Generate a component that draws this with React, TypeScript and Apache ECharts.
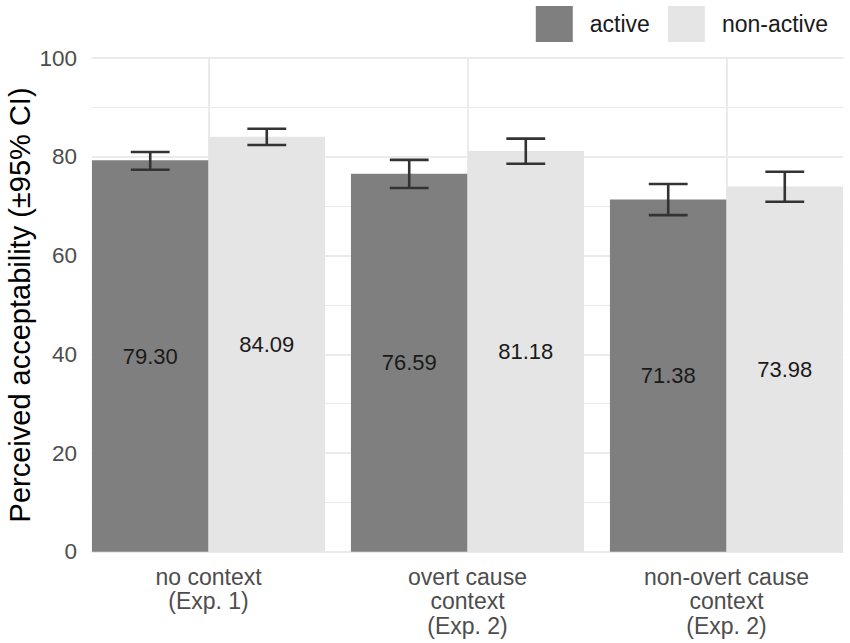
import React, { useEffect, useRef } from "react";
import * as echarts from "echarts";

const categories = [
  "no context\n(Exp. 1)",
  "overt cause\ncontext\n(Exp. 2)",
  "non-overt cause\ncontext\n(Exp. 2)",
];
const seriesNames = ["active", "non-active"];
const activeMeans = [79.3, 76.59, 71.38];
const nonActiveMeans = [84.09, 81.18, 73.98];
const activeLow = [77.4, 73.7, 68.2];
const activeHigh = [81.0, 79.4, 74.5];
const nonActiveLow = [82.4, 78.6, 70.9];
const nonActiveHigh = [85.7, 83.7, 77.0];
const yTicks = [0, 20, 40, 60, 80, 100];

const FONT = "'Liberation Sans', Arial, sans-serif";
const ACTIVE_COLOR = "#7f7f7f";
const NONACTIVE_COLOR = "#e5e5e5";
const GRID_COLOR = "#ebebeb";

function errorSeries(low: number[], high: number[], sign: number) {
  return {
    type: "custom",
    z: 5,
    silent: true,
    encode: { x: 0, y: [1, 2] },
    data: low.map((l, i) => [i, l, high[i]]),
    renderItem: (params: any, api: any) => {
      const ci = api.value(0);
      const lo = api.value(1);
      const hi = api.value(2);
      const band = api.size([1, 0])[0];
      const off = sign * band * 0.225;
      const half = band * 0.075;
      const pLo = api.coord([ci, lo]);
      const pHi = api.coord([ci, hi]);
      const x = pLo[0] + off;
      const style = { stroke: "#333333", lineWidth: 2.6 };
      return {
        type: "group",
        children: [
          { type: "line", shape: { x1: x, y1: pLo[1], x2: x, y2: pHi[1] }, style },
          { type: "line", shape: { x1: x - half, y1: pLo[1], x2: x + half, y2: pLo[1] }, style },
          { type: "line", shape: { x1: x - half, y1: pHi[1], x2: x + half, y2: pHi[1] }, style },
        ],
      };
    },
  };
}

export default function App() {
  const ref = useRef<HTMLDivElement>(null);
  useEffect(() => {
    document.body.style.margin = "0";
    if (!ref.current) return;
    const chart = echarts.init(ref.current, undefined, { renderer: "svg" });
    const gridIdx = ["", "c1", "", "c2", "", "c3", ""];
    const barLabel = {
      show: true,
      position: "inside",
      color: "#1a1a1a",
      fontSize: 22,
      fontFamily: FONT,
      formatter: (p: any) => Number(p.value).toFixed(2),
    };
    chart.setOption({
      animation: false,
      textStyle: { fontFamily: FONT },
      grid: {
        left: 79,
        right: -6,
        top: 58.2,
        bottom: 91.3,
        containLabel: false,
        outerBoundsMode: "none",
      },
      legend: {
        data: seriesNames,
        right: 22,
        top: 6,
        padding: 0,
        icon: "rect",
        itemWidth: 37,
        itemHeight: 36,
        itemGap: 18,
        selectedMode: false,
        textStyle: { color: "#1a1a1a", fontSize: 23, fontFamily: FONT, padding: [0, 0, 0, 12] },
      },
      xAxis: [
        {
          type: "category",
          data: categories,
          axisLine: { show: false },
          axisTick: { show: false },
          splitLine: { show: false },
          axisLabel: {
            color: "#4d4d4d",
            fontSize: 23,
            lineHeight: 24.5,
            margin: 13,
            fontFamily: FONT,
            interval: 0,
          },
        },
        {
          type: "category",
          data: gridIdx,
          boundaryGap: false,
          position: "top",
          axisLine: { show: false },
          axisTick: { show: false },
          axisLabel: { show: false },
          splitLine: {
            show: true,
            interval: (i: number) => i % 2 === 1,
            lineStyle: { color: GRID_COLOR, width: 2 },
          },
        },
      ],
      yAxis: {
        type: "value",
        min: yTicks[0],
        max: yTicks[yTicks.length - 1],
        interval: 20,
        name: "Perceived acceptability (±95% CI)",
        nameLocation: "middle",
        nameGap: 45,
        nameMoveOverlap: false,
        nameTextStyle: { color: "#000000", fontSize: 29, fontFamily: FONT },
        axisLine: { show: false },
        axisTick: { show: false },
        axisLabel: { color: "#4d4d4d", fontSize: 22.5, margin: 2, fontFamily: FONT },
        splitLine: { show: true, lineStyle: { color: GRID_COLOR, width: 2 } },
        minorTick: { show: false, splitNumber: 2 },
        minorSplitLine: { show: true, lineStyle: { color: GRID_COLOR, width: 1.2 } },
      },
      graphic: [
        {
          type: "rect",
          z: 1,
          silent: true,
          shape: { x: 79, y: 40, width: 12.6, height: 520 },
          style: { fill: "#ffffff" },
        },
        {
          type: "rect",
          z: 1,
          silent: true,
          shape: { x: 843.4, y: 50, width: 20, height: 510 },
          style: { fill: "#ffffff" },
        },
      ],
      series: [
        {
          name: seriesNames[0],
          type: "bar",
          data: activeMeans,
          itemStyle: { color: ACTIVE_COLOR },
          barGap: "0%",
          barCategoryGap: "10%",
          z: 3,
          label: barLabel,
        },
        {
          name: seriesNames[1],
          type: "bar",
          data: nonActiveMeans,
          itemStyle: { color: NONACTIVE_COLOR },
          barGap: "0%",
          barCategoryGap: "10%",
          z: 3,
          label: barLabel,
        },
        errorSeries(activeLow, activeHigh, -1),
        errorSeries(nonActiveLow, nonActiveHigh, 1),
      ],
    });
    return () => chart.dispose();
  }, []);
  return <div ref={ref} style={{ width: 850, height: 643 }} />;
}
